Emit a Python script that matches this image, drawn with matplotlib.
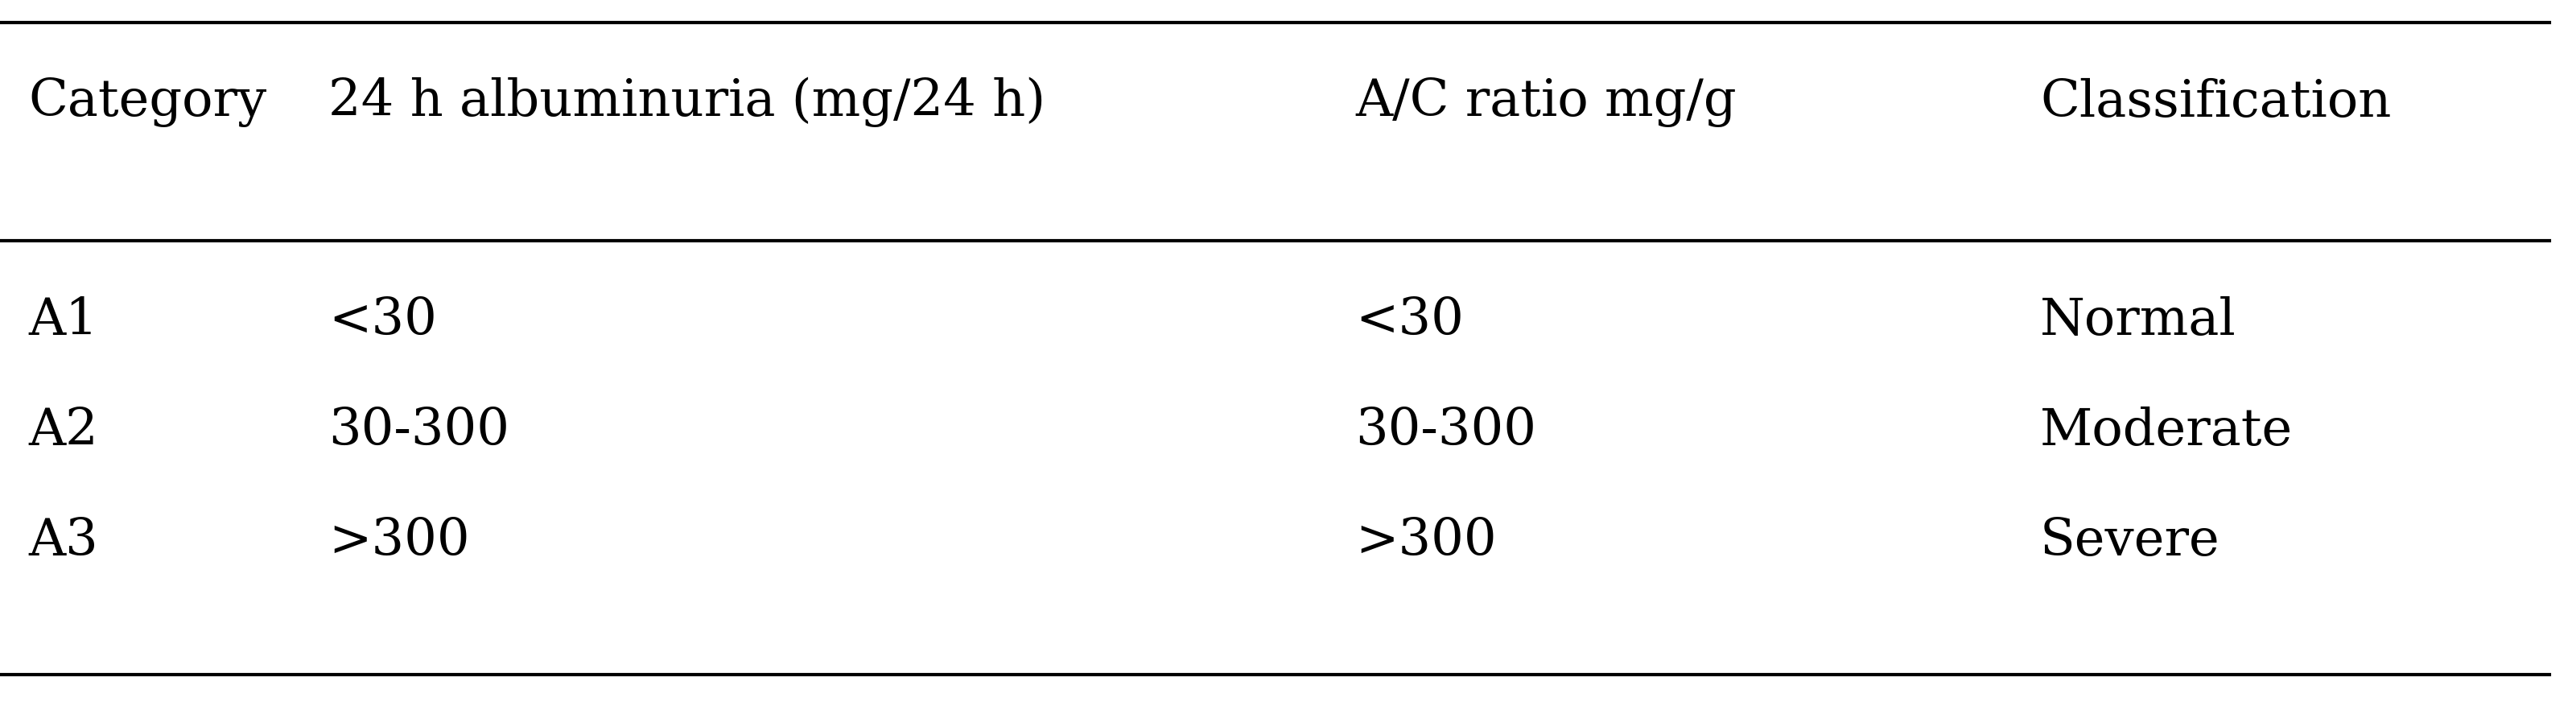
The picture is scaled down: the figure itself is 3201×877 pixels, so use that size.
import matplotlib
matplotlib.use("Agg")
import matplotlib.pyplot as plt
from matplotlib.lines import Line2D

headers = ["Category", "24 h albuminuria (mg/24 h)", "A/C ratio mg/g", "Classification"]
categories = ["A1", "A2", "A3"]
albuminuria = ["<30", "30-300", ">300"]
ac_ratio = ["<30", "30-300", ">300"]
classification = ["Normal", "Moderate", "Severe"]

W, H = 3201, 878
fig = plt.figure(figsize=(W/100, H/100), dpi=100)
fig.patch.set_facecolor("white")
col_x = [35, 408, 1684, 2535]
fs = 46
font = "DejaVu Serif"

def fx(x): return x / W
def fy(y): return 1 - y / H

for y in [29, 300, 839]:
    fig.add_artist(Line2D([0, fx(3168)], [fy(y), fy(y)], color="black", lw=3))

for x, h in zip(col_x, headers):
    fig.text(fx(x), fy(127), h, fontsize=fs, family=font, va="center", ha="left")

rows = list(zip(categories, albuminuria, ac_ratio, classification))
for y, row in zip([398, 535, 672], rows):
    for x, v in zip(col_x, row):
        fig.text(fx(x), fy(y), v, fontsize=fs, family=font, va="center", ha="left")

fig.savefig("out.png", dpi=100)
